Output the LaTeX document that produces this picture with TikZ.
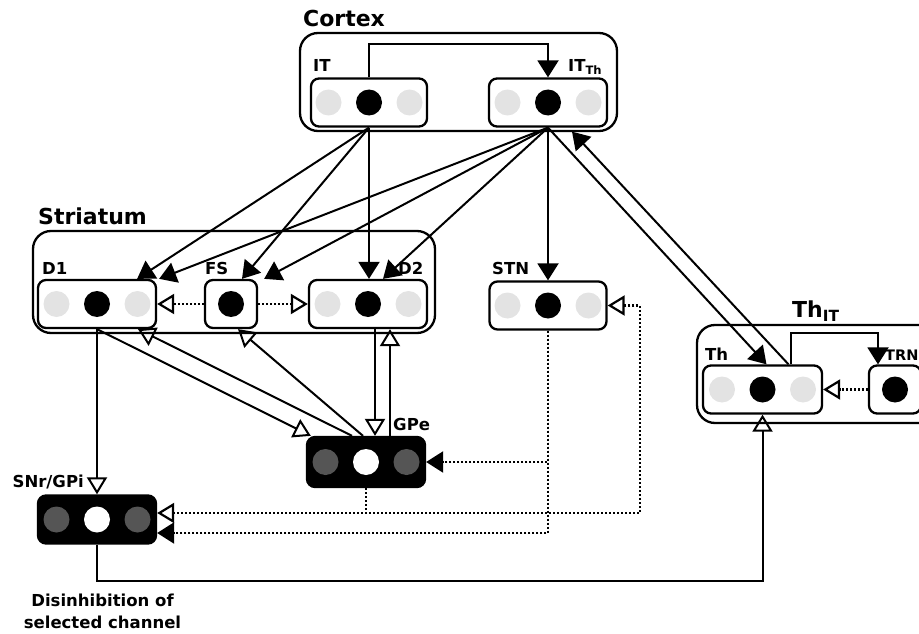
\documentclass[tikz,border=0pt]{standalone}
\usepackage{fontspec}
\setmainfont{DejaVu Sans}
\usepackage{xcolor}
\usetikzlibrary{arrows.meta,calc}
\definecolor{cellgray}{HTML}{E3E3E3}
\definecolor{celldark}{HTML}{555555}

\begin{document}
\begin{tikzpicture}[x=1pt,y=-1pt,
		region/.style={draw,line width=2.3pt,rounded corners=18pt},
		box/.style={draw,line width=2.3pt,rounded corners=8pt,minimum height=48pt,inner sep=0pt},
		lbl/.style={font=\fontsize{16.5}{18}\selectfont\bfseries,anchor=base west,inner sep=0pt},
		title/.style={font=\fontsize{22}{26}\selectfont\bfseries,anchor=base west,inner sep=0pt},
		fa/.style={line width=2pt,-{Triangle[length=17pt,width=21pt]}},
		oa/.style={line width=2pt,-{Triangle[open,length=17pt,width=20pt]}},
		dotline/.style={line width=2.2pt,dash pattern=on 2pt off 2pt}]
				\clip (0,0) rectangle (919,634);
				% regions
				\node[region,minimum width=317pt,minimum height=98pt] (cortex) at (458.5,82) {};
				\node[region,minimum width=402pt,minimum height=102pt] (striatum) at (234,282) {};
				\node[region,minimum width=240pt,minimum height=98pt] (thal) at (817,374) {};
				\node[title] (cortexlbl) at (303,27) {Cortex};
				\node[title] (striatumlbl) at (38,224) {Striatum};
				\node[title] (thallbl) at (792,317) {Th\textsubscript{IT}};
				% populations
				\node[box,minimum width=116pt] (IT) at (369,102.5) {};
				\node[box,minimum width=118pt] (ITTh) at (548,102.5) {};
				\node[box,minimum width=118pt] (D1) at (97,304) {};
				\node[box,minimum width=52pt] (FS) at (231,304) {};
				\node[box,minimum width=118pt] (D2) at (368,304) {};
				\node[box,minimum width=117pt] (STN) at (548,305.5) {};
				\node[box,fill,minimum width=118pt,minimum height=50pt] (GPe) at (366,462) {};
				\node[box,fill,minimum width=118pt] (SNr) at (97,519.5) {};
				\node[box,minimum width=119pt] (Th) at (762.5,389.5) {};
				\node[box,minimum width=52pt] (TRN) at (895,389.5) {};
				\foreach \b in {IT,ITTh,D1,D2,STN,Th} {
					\fill[cellgray] ([xshift=-40.5pt]\b.center) circle (13pt);
					\fill (\b.center) circle (13pt);
					\fill[cellgray] ([xshift=40.5pt]\b.center) circle (13pt);
				}
				\foreach \b in {FS,TRN}
				\fill (\b.center) circle (13pt);
				\foreach \b in {GPe,SNr} {
					\fill[celldark] ([xshift=-40.5pt]\b.center) circle (13pt);
					\fill[white] (\b.center) circle (13pt);
					\fill[celldark] ([xshift=40.5pt]\b.center) circle (13pt);
				}
				\node[lbl] (ITlbl) at (313,72) {IT};
				\node[lbl] (ITThlbl) at (568,72) {IT\textsubscript{Th}};
				\node[lbl] (D1lbl) at (42,274) {D1};
				\node[lbl] (FSlbl) at (205,274) {FS};
				\node[lbl] (D2lbl) at (398,274) {D2};
				\node[lbl] (STNlbl) at (492,274) {STN};
				\node[lbl] (GPelbl) at (393,430) {GPe};
				\node[lbl,anchor=base east] (SNrlbl) at (84,487) {SNr/GPi};
				\node[lbl] (Thlbl) at (705,360) {Th};
				\node[lbl,font=\fontsize{14.5}{18}\selectfont\bfseries] (TRNlbl) at (885,360) {TRN};
				\node[lbl,anchor=center,align=center,font=\fontsize{16.5}{22}\selectfont\bfseries] (disinh) at (102.5,611) {Disinhibition of\\selected channel};
				% cortical projections
				\draw[fa] (IT.north) -- ++(0,-33) -| (ITTh.north);
				\draw[fa] (IT.south) -- ([xshift=-20pt]D1.north east);
				\draw[fa] (IT.south) -- ([xshift=11pt]FS.north);
				\draw[fa] (IT.south) -- (IT.south |- D2.north);
				\draw[fa] (ITTh.south) -- ([xshift=2pt]D1.north east);
				\draw[fa] (ITTh.south) -- ([xshift=6pt]FS.north east);
				\draw[fa] (ITTh.south) -- ([xshift=15pt]D2.north);
				\draw[fa] (ITTh.south) -- (STN.north);
				\draw[fa] (ITTh.south) -- ([xshift=4pt]Th.north);
				\draw[fa] ([xshift=26pt]Th.north) -- ([xshift=24pt,yshift=-4pt]ITTh.south);
				\draw[fa] ([xshift=28pt]Th.north) -- ++(0,-31) -| ([xshift=-17pt]TRN.north);
				% striatum and pallidum
				\draw[oa,dotline] (FS.west) -- (D1.east);
				\draw[oa,dotline] (FS.east) -- (D2.west);
				\draw[oa,dotline] (TRN.west) -- (Th.east);
				\draw[oa] (D1.south) -- ([xshift=5pt]GPe.north west);
				\draw[oa] ([xshift=-14pt]GPe.north) -- ([xshift=41pt]D1.south);
				\draw[oa] ([xshift=-3pt]GPe.north) -- ([xshift=7pt]FS.south);
				\draw[oa] ([xshift=7pt]D2.south) -- ([xshift=7pt]D2.south |- GPe.north);
				\draw[oa] ([xshift=24pt]GPe.north) -- ([xshift=24pt]GPe.north |- D2.south);
				\draw[oa] (D1.south) -- (SNr.north);
				\draw[oa] (SNr.south) -- ++(0,36) -| (Th.south);
				% subthalamic loop
				\coordinate (turn) at (640,513);
				\draw[fa,dotline] (STN.south) |- (GPe.east);
				\draw[fa,dotline] (STN.south) |- ([yshift=-13.5pt]SNr.east);
				\draw[oa,dotline] (GPe.south) |- ([yshift=6.5pt]SNr.east);
				\draw[oa,dotline] (GPe.south) |- (turn) |- (STN.east);
			\end{tikzpicture}
\end{document}
